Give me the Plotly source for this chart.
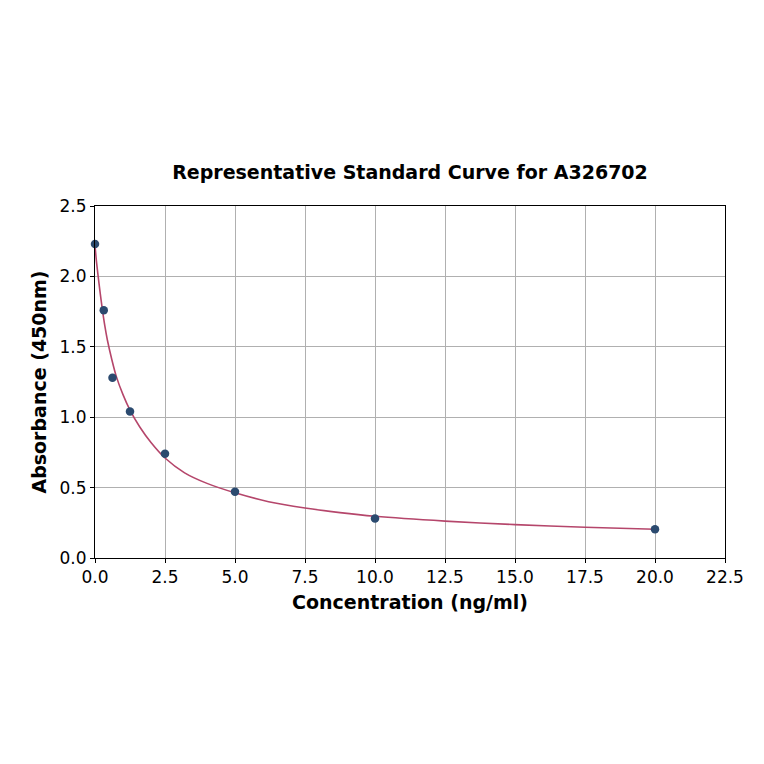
import plotly.graph_objects as go

conc = [0, 0.3125, 0.625, 1.25, 2.5, 5, 10, 20]
absorb = [2.23, 1.76, 1.28, 1.04, 0.74, 0.47, 0.28, 0.205]

curve_x = [0, 0.05, 0.107, 0.18, 0.26, 0.35, 0.44, 0.6, 0.76, 1.0, 1.25, 1.6, 2.0, 2.5, 3.2, 4.0, 5.0, 6.2, 7.5, 8.75, 10.0, 12.5, 15.0, 17.5, 20.0]
curve_y = [2.22, 2.11, 2.01, 1.89, 1.77, 1.65, 1.55, 1.41, 1.29, 1.16, 1.05, 0.93, 0.82, 0.71, 0.605, 0.53, 0.463, 0.40, 0.355, 0.322, 0.296, 0.262, 0.237, 0.218, 0.204]

fig = go.Figure()
fig.add_trace(go.Scatter(x=curve_x, y=curve_y, mode="lines",
                         line=dict(color="#b5466b", width=1.6, shape="spline", smoothing=0.8), hoverinfo="skip"))
fig.add_trace(go.Scatter(x=conc, y=absorb, mode="markers", marker=dict(color="#2b4a6f", size=8.5), cliponaxis=False))

font = "DejaVu Sans"
# page body adds an 8px offset; margins compensate so plot area lands at 95..725 x 206..558
fig.update_layout(
    width=764, height=764,
    margin=dict(l=87, r=47, t=198, b=214),
    paper_bgcolor="white", plot_bgcolor="white",
    showlegend=False,
    font=dict(family=font, color="black", size=17),
    title=dict(text="<b>Representative Standard Curve for A326702</b>", x=(87 + 717) / 2 / 764, xanchor="center",
               y=1 - 164 / 764, yanchor="middle", font=dict(size=19, family=font)),
)
axis_common = dict(showline=True, linecolor="black", linewidth=1, mirror=True, ticks="outside", ticklen=4, tickcolor="black",
                   showgrid=True, gridcolor="#b0b0b0", gridwidth=1, zeroline=False, tickfont=dict(size=17, family=font))
fig.update_xaxes(range=[0, 22.5], tick0=0, dtick=2.5, tickformat=".1f",
                 title=dict(text="<b>Concentration (ng/ml)</b>", font=dict(size=19, family=font), standoff=9), **axis_common)
fig.update_yaxes(range=[0, 2.5], tick0=0, dtick=0.5, tickformat=".1f",
                 title=dict(text="<b>Absorbance (450nm)</b>", font=dict(size=19, family=font), standoff=7), **axis_common)

fig.write_html("out.html")
